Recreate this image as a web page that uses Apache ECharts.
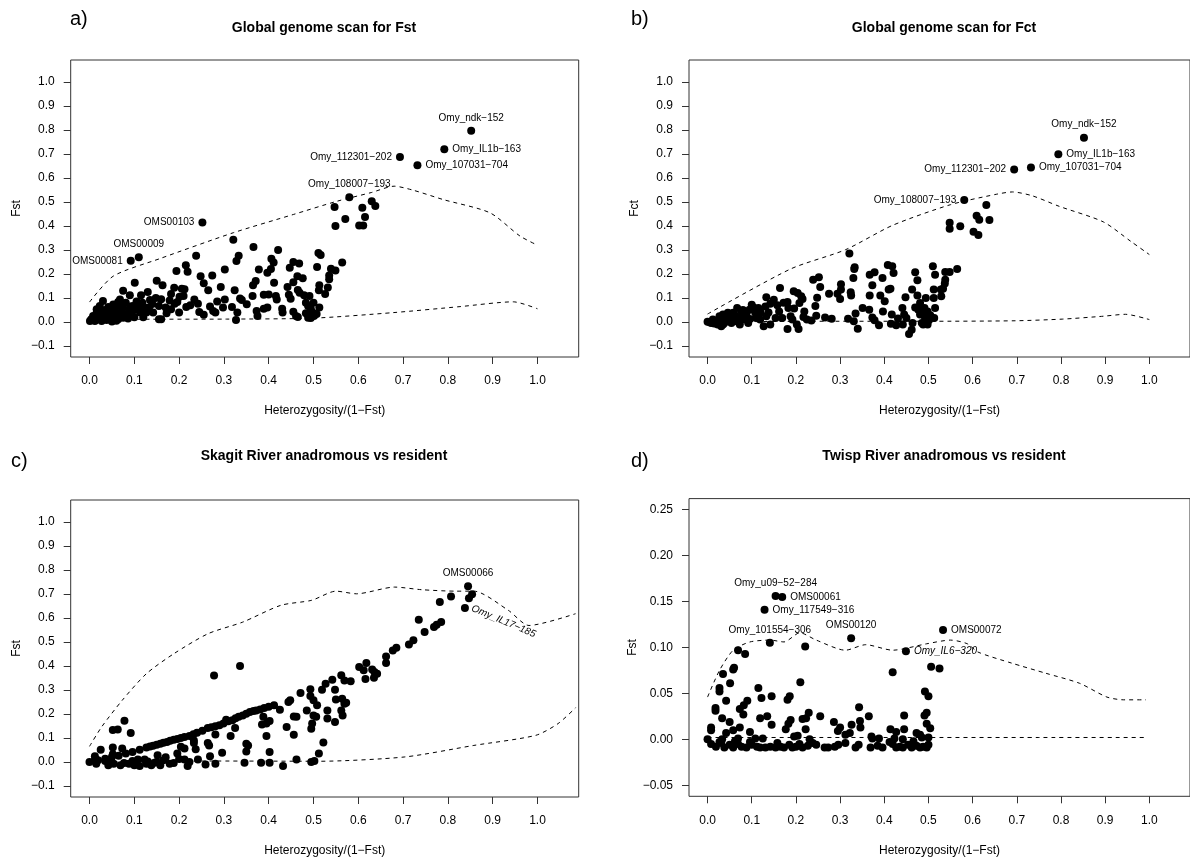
<!DOCTYPE html>
<html><head><meta charset="utf-8">
<script src="https://cdn.jsdelivr.net/npm/echarts@6/dist/echarts.min.js"></script>
<style>html,body{margin:0;padding:0;background:#fff}#c{width:1190px;height:862px}</style>
</head><body><div id="c"></div>
<script>
// ---------- tick labels ----------
const xTicks = [0, 0.1, 0.2, 0.3, 0.4, 0.5, 0.6, 0.7, 0.8, 0.9, 1.0];
const yTicksF = [-0.1, 0, 0.1, 0.2, 0.3, 0.4, 0.5, 0.6, 0.7, 0.8, 0.9, 1.0];
const yTicksD = [-0.05, 0, 0.05, 0.10, 0.15, 0.20, 0.25];

// ---------- panel a: Global genome scan for Fst ----------
const aPoints = [[0.547,0.479],[0.549,0.400],[0.571,0.429],[0.609,0.476],[0.630,0.503],[0.638,0.483],[0.615,0.438],[0.602,0.402],[0.611,0.402],
[0.321,0.343],[0.366,0.312],[0.421,0.300],[0.238,0.276],[0.333,0.276],[0.328,0.254],[0.406,0.264],[0.411,0.248],[0.511,0.288],[0.516,0.279],[0.564,0.248],[0.215,0.236],[0.194,0.212],[0.219,0.209],[0.248,0.191],[0.274,0.194],[0.302,0.219],[0.378,0.219],[0.405,0.221],[0.397,0.205],[0.455,0.250],[0.468,0.244],[0.447,0.226],[0.508,0.229],[0.539,0.222],[0.549,0.215],[0.535,0.194],[0.535,0.178],[0.532,0.144],[0.513,0.153],[0.512,0.132],[0.526,0.117],[0.464,0.191],[0.476,0.182],[0.455,0.166],[0.412,0.164],[0.371,0.171],[0.365,0.153],[0.293,0.146],[0.324,0.132],[0.255,0.161],[0.265,0.132],[0.150,0.172],[0.163,0.153],[0.101,0.164],[0.075,0.130],[0.090,0.111],[0.115,0.111],[0.130,0.125],[0.182,0.117],[0.189,0.143],[0.206,0.139],[0.212,0.136],[0.210,0.108],[0.201,0.105],[0.179,0.090],[0.190,0.076],[0.216,0.062],[0.234,0.094],[0.242,0.076],[0.245,0.042],[0.269,0.064],[0.276,0.046],[0.281,0.039],[0.298,0.060],[0.302,0.094],[0.318,0.062],[0.336,0.098],[0.340,0.092],[0.351,0.074],[0.330,0.039],[0.327,0.008],[0.364,0.108],[0.373,0.046],[0.375,0.025],[0.389,0.055],[0.397,0.060],[0.389,0.114],[0.400,0.115],[0.416,0.108],[0.418,0.094],[0.430,0.055],[0.431,0.039],[0.442,0.146],[0.445,0.114],[0.449,0.097],[0.455,0.043],[0.461,0.025],[0.465,0.021],[0.465,0.133],[0.469,0.122],[0.479,0.111],[0.491,0.108],[0.483,0.080],[0.488,0.067],[0.494,0.055],[0.500,0.080],[0.498,0.039],[0.501,0.025],[0.494,0.017],[0.507,0.033],[0.513,0.060],[0.483,0.036],[0.488,0.018],[0.160,0.011],[0.155,0.011],[0.172,0.036],[0.182,0.053],[0.196,0.083],[0.133,0.060],[0.135,0.092],[0.148,0.100],[0.155,0.067],[0.113,0.039],[0.101,0.050],[0.092,0.064],[0.081,0.080],[0.068,0.094],[0.061,0.067],[0.053,0.053],[0.042,0.062],[0.030,0.087],[0.023,0.067],[0.016,0.053],[0.008,0.025],[0.001,0.004],[0.004,0.011],[0.012,0.004],[0.019,0.014],[0.027,0.004],[0.034,0.025],[0.038,0.008],[0.045,0.032],[0.049,0.014],[0.057,0.025],[0.064,0.011],[0.071,0.039],[0.075,0.018],[0.083,0.032],[0.086,0.014],[0.094,0.025],[0.016,0.039],[0.023,0.046],[0.030,0.039],[0.042,0.039],[0.053,0.073],[0.064,0.083],[0.075,0.060],[0.097,0.067],[0.108,0.060],[0.123,0.060],[0.127,0.039],[0.142,0.039],[0.008,0.015],[0.014,0.025],
[0.020,0.030],[0.035,0.050],[0.047,0.045],[0.060,0.040],[0.070,0.070],[0.088,0.045],[0.105,0.085],[0.118,0.080],[0.140,0.075],[0.160,0.095],[0.170,0.060],[0.200,0.040],[0.225,0.070],[0.255,0.030],[0.285,0.085],[0.120,0.020],[0.100,0.020],[0.060,0.005],[0.030,0.015],[0.050,0.002]];
const aLabelNames = ['Omy_ndk\u2212152','Omy_IL1b\u2212163','Omy_112301\u2212202','Omy_107031\u2212704','Omy_108007\u2212193','OMS00103','OMS00009','OMS00081'];
const aLabelX = [0.852, 0.792, 0.693, 0.732, 0.580, 0.252, 0.110, 0.092];
const aLabelY = [0.797, 0.720, 0.688, 0.653, 0.520, 0.415, 0.270, 0.255];
const aUpper = [[0.0,0.083],[0.053,0.191],[0.157,0.264],[0.321,0.372],[0.455,0.448],[0.552,0.503],[0.630,0.540],[0.680,0.566],[0.723,0.549],[0.790,0.510],[0.894,0.455],[0.961,0.358],[1.0,0.320]];
const aLower = [[0.0,0.004],[0.083,0.011],[0.306,0.012],[0.500,0.016],[0.678,0.039],[0.827,0.064],[0.946,0.084],[1.0,0.055]];

// ---------- panel b: Global genome scan for Fct ----------
const bPoints = [[0.631,0.488],[0.609,0.443],[0.615,0.426],[0.638,0.425],[0.548,0.414],[0.548,0.389],[0.572,0.399],[0.602,0.376],[0.613,0.363],
[0.321,0.285],[0.333,0.228],[0.332,0.221],[0.330,0.183],[0.239,0.176],[0.252,0.186],[0.255,0.146],[0.248,0.101],[0.244,0.067],[0.246,0.026],[0.235,0.006],[0.275,0.118],[0.266,0.019],[0.281,0.013],[0.294,0.118],[0.300,0.096],[0.302,0.135],[0.302,0.157],[0.324,0.124],[0.325,0.110],[0.318,0.013],[0.331,0.003],[0.340,-0.028],[0.335,0.035],[0.351,0.058],[0.366,0.051],[0.367,0.110],[0.373,0.153],[0.367,0.197],[0.378,0.207],[0.373,0.019],[0.378,0.007],[0.388,-0.014],[0.391,0.110],[0.396,0.183],[0.401,0.086],[0.397,0.044],[0.408,0.237],[0.418,0.232],[0.421,0.204],[0.410,0.135],[0.414,0.138],[0.417,0.031],[0.415,-0.007],[0.427,-0.014],[0.431,0.014],[0.442,-0.011],[0.448,0.103],[0.441,0.058],[0.445,0.031],[0.450,0.017],[0.456,-0.050],[0.462,-0.032],[0.464,-0.004],[0.463,0.135],[0.470,0.207],[0.475,0.174],[0.475,0.110],[0.481,0.079],[0.477,0.051],[0.481,0.031],[0.485,-0.004],[0.488,-0.011],[0.491,0.058],[0.494,0.100],[0.498,0.044],[0.501,0.007],[0.504,0.028],[0.498,-0.011],[0.510,0.232],[0.515,0.197],[0.512,0.135],[0.512,0.100],[0.515,0.058],[0.513,0.017],[0.528,0.135],[0.529,0.107],[0.533,0.138],[0.537,0.160],[0.538,0.176],[0.538,0.208],[0.548,0.208],[0.565,0.221],[0.133,0.103],[0.142,0.076],[0.150,0.093],[0.164,0.142],[0.162,0.044],[0.169,0.017],[0.181,0.083],[0.181,-0.029],[0.183,0.058],[0.188,0.024],[0.195,0.128],[0.204,0.121],[0.208,0.079],[0.212,0.107],[0.215,0.096],[0.219,0.044],[0.217,0.021],[0.206,-0.029],[0.202,-0.011],[0.192,0.010],[0.131,0.065],[0.133,0.024],[0.127,-0.018],[0.119,0.010],[0.142,-0.011],[0.154,0.017],[0.115,0.058],[0.100,0.072],[0.095,0.051],[0.088,0.033],[0.081,0.010],[0.073,-0.011],[0.067,0.058],[0.058,0.038],[0.050,0.017],[0.042,0.003],[0.035,-0.011],[0.027,0.024],[0.019,0.003],[0.012,0.010],[0.004,0.000],[0.008,-0.004],[0.000,0.001],[0.035,0.031],[0.042,0.024],[0.077,0.044],[0.085,0.024],[0.092,-0.004],[0.108,0.038],[0.110,0.017],[0.023,-0.011],[0.031,-0.018],[0.054,-0.004],[0.065,0.003],[0.046,0.038],
[0.015,-0.006],[0.028,0.008],[0.038,-0.004],[0.052,0.010],[0.062,0.028],[0.071,0.020],[0.080,0.050],[0.096,0.012],[0.104,0.060],[0.120,0.040],[0.138,0.040],[0.158,0.070],[0.172,0.080],[0.196,0.056],[0.225,0.010],[0.485,0.040],[0.492,0.020],[0.470,0.060]];
const bLabelNames = ['Omy_ndk\u2212152','Omy_IL1b\u2212163','Omy_112301\u2212202','Omy_107031\u2212704','Omy_108007\u2212193'];
const bLabelX = [0.852, 0.794, 0.694, 0.732, 0.581];
const bLabelY = [0.768, 0.699, 0.636, 0.644, 0.508];
const bUpper = [[0.0,0.033],[0.188,0.221],[0.312,0.301],[0.419,0.403],[0.550,0.489],[0.650,0.531],[0.690,0.542],[0.735,0.526],[0.796,0.482],[0.896,0.417],[0.958,0.336],[1.0,0.281]];
const bLower = [[0.0,0.0],[0.265,0.003],[0.496,0.003],[0.696,0.005],[0.804,0.012],[0.896,0.024],[0.946,0.032],[1.0,0.010]];

// ---------- panel c: Skagit River anadromous vs resident ----------
const cPoints = [[0.854,0.699],[0.847,0.682],[0.807,0.690],[0.782,0.667],[0.735,0.593],[0.785,0.583],[0.775,0.572],[0.769,0.563],[0.748,0.542],[0.723,0.507],[0.713,0.490],[0.685,0.476],[0.677,0.465],[0.662,0.440],[0.662,0.413],[0.618,0.413],[0.602,0.396],[0.612,0.382],[0.616,0.346],[0.631,0.385],[0.636,0.375],[0.642,0.368],[0.635,0.351],[0.562,0.361],[0.569,0.340],[0.583,0.336],[0.542,0.343],[0.527,0.326],[0.519,0.301],[0.548,0.301],[0.493,0.303],[0.471,0.288],[0.448,0.257],[0.444,0.250],[0.412,0.236],[0.425,0.218],[0.390,0.225],[0.381,0.219],[0.372,0.215],[0.358,0.208],[0.350,0.201],[0.342,0.194],[0.333,0.188],[0.319,0.174],[0.305,0.176],[0.299,0.160],[0.290,0.153],[0.281,0.149],[0.264,0.142],[0.240,0.122],[0.223,0.108],[0.204,0.100],[0.188,0.093],[0.173,0.083],[0.158,0.076],[0.142,0.068],[0.127,0.060],[0.112,0.051],[0.096,0.042],[0.081,0.035],[0.065,0.026],[0.050,0.021],[0.035,0.013],[0.019,0.007],[0.0,0.0],
[0.278,0.360],[0.336,0.400],[0.078,0.172],[0.063,0.135],[0.052,0.133],[0.092,0.121],[0.025,0.051],[0.052,0.060],[0.073,0.056],
[0.493,0.275],[0.500,0.257],[0.508,0.236],[0.485,0.215],[0.500,0.194],[0.506,0.188],[0.497,0.160],[0.495,0.139],[0.456,0.190],[0.462,0.188],[0.440,0.146],[0.456,0.114],[0.531,0.215],[0.531,0.181],[0.548,0.167],[0.550,0.260],[0.564,0.264],[0.569,0.243],[0.573,0.247],[0.562,0.215],[0.565,0.194],[0.388,0.188],[0.385,0.156],[0.395,0.160],[0.402,0.171],[0.395,0.108],[0.402,0.042],[0.350,0.076],[0.354,0.069],[0.350,0.044],[0.346,-0.003],[0.383,-0.003],[0.402,-0.003],[0.432,-0.017],[0.462,0.010],[0.495,0.0],[0.502,0.004],[0.512,0.035],[0.522,0.081],[0.325,0.142],[0.315,0.108],[0.296,0.038],[0.281,-0.007],[0.269,0.024],[0.259,-0.011],[0.264,0.079],[0.267,0.069],[0.281,0.115],[0.242,0.010],[0.237,0.053],[0.233,0.079],[0.233,0.090],[0.223,0.0],[0.219,-0.017],[0.212,0.010],[0.212,0.056],[0.204,0.063],[0.196,0.035],[0.188,-0.004],[0.179,-0.007],[0.165,0.007],[0.158,-0.014],[0.152,0.028],[0.150,0.0],[0.138,-0.014],[0.127,-0.007],[0.123,0.010],[0.112,-0.017],[0.100,-0.014],[0.096,0.004],[0.088,-0.007],[0.077,-0.004],[0.069,-0.014],[0.054,-0.007],[0.042,-0.014],[0.046,0.007],[0.035,0.004],[0.012,0.007],[0.012,0.024],[0.015,-0.007],[0.052,0.032],
[0.135,0.064],[0.150,0.072],[0.165,0.080],[0.180,0.088],[0.196,0.096],[0.212,0.104],[0.232,0.116],[0.252,0.130],[0.272,0.145],[0.310,0.170],[0.326,0.182],[0.366,0.212],[0.400,0.230],[0.108,0.010],[0.130,0.002],[0.145,-0.003],[0.170,0.020],[0.200,0.012]];
const cLabelNames = ['OMS00066','Omy_IL17\u2212185'];
const cLabelX = [0.845, 0.838];
const cLabelY = [0.732, 0.642];
const cUpper = [[0.0,0.065],[0.027,0.146],[0.073,0.257],[0.127,0.368],[0.188,0.451],[0.265,0.535],[0.342,0.583],[0.427,0.653],[0.496,0.674],[0.550,0.712],[0.596,0.701],[0.681,0.729],[0.742,0.718],[0.819,0.712],[0.858,0.712],[0.935,0.632],[0.981,0.569],[1.085,0.618]];
const cLower = [[0.0,0.0],[0.281,0.004],[0.512,0.003],[0.704,0.021],[0.858,0.069],[0.996,0.111],[1.046,0.160],[1.085,0.226]];

// ---------- panel d: Twisp River anadromous vs resident ----------
const dPoints = [[0.069,0.097],[0.085,0.093],[0.035,0.071],[0.058,0.076],[0.060,0.078],[0.027,0.056],[0.027,0.052],[0.051,0.061],[0.042,0.042],[0.018,0.034],[0.018,0.031],[0.033,0.023],[0.008,0.013],[0.008,0.010],[0.050,0.019],[0.073,0.033],[0.082,0.037],[0.090,0.042],[0.081,0.027],[0.073,0.013],[0.058,0.010],[0.042,0.007],[0.096,0.008],[0.115,0.056],[0.122,0.045],[0.145,0.047],[0.119,0.023],[0.135,0.025],[0.145,0.016],[0.181,0.043],[0.186,0.047],[0.188,0.021],[0.183,0.017],[0.177,0.011],[0.210,0.062],[0.215,0.022],[0.223,0.023],[0.229,0.029],[0.222,0.011],[0.221,0.101],[0.255,0.025],[0.286,0.019],[0.295,0.009],[0.300,0.013],[0.312,0.005],[0.322,0.007],[0.326,0.016],[0.343,0.035],[0.345,0.020],[0.346,0.013],[0.365,0.025],[0.371,0.003],[0.419,0.073],[0.414,0.011],[0.427,0.008],[0.445,0.026],[0.445,0.011],[0.473,0.007],[0.481,0.005],[0.492,0.052],[0.500,0.047],[0.491,0.026],[0.496,0.029],[0.496,0.017],[0.504,0.012],[0.500,0.002],[0.506,0.079],[0.525,0.077],
[0.0,0.0],[0.008,-0.005],[0.019,-0.008],[0.031,-0.004],[0.038,-0.009],[0.050,-0.006],[0.058,-0.009],[0.069,-0.005],[0.077,-0.008],[0.088,-0.009],[0.100,-0.006],[0.112,-0.008],[0.119,-0.009],[0.131,-0.009],[0.142,-0.008],[0.154,-0.009],[0.165,-0.008],[0.173,-0.009],[0.185,-0.006],[0.192,-0.009],[0.200,-0.008],[0.208,-0.005],[0.215,-0.009],[0.227,-0.007],[0.238,-0.004],[0.265,-0.009],[0.273,-0.009],[0.288,-0.008],[0.296,-0.006],[0.335,-0.009],[0.342,-0.006],[0.369,-0.009],[0.385,-0.007],[0.396,-0.009],[0.419,-0.005],[0.427,-0.009],[0.435,-0.008],[0.442,-0.009],[0.454,-0.006],[0.462,-0.009],[0.473,-0.007],[0.481,-0.009],[0.488,-0.008],[0.496,-0.009],[0.500,-0.006],
[0.033,0.0],[0.069,0.001],[0.108,0.001],[0.125,0.001],[0.196,0.003],[0.204,0.004],[0.231,0.0],[0.373,0.001],[0.388,0.001],[0.423,0.001],[0.442,0.0],[0.485,0.002],[0.027,-0.003],[0.062,-0.002],[0.096,-0.003],[0.158,-0.004],[0.246,-0.006],[0.312,-0.004],[0.412,-0.003],[0.466,-0.002]];
const dLabelNames = ['Omy_u09\u221252\u2212284','OMS00061','Omy_117549\u2212316','Omy_101554\u2212306','OMS00120','OMS00072','Omy_IL6\u2212320'];
const dLabelX = [0.154, 0.169, 0.129, 0.141, 0.325, 0.533, 0.449];
const dLabelY = [0.156, 0.155, 0.141, 0.105, 0.110, 0.119, 0.096];
const dUpper = [[0.0,0.046],[0.027,0.075],[0.058,0.097],[0.096,0.106],[0.142,0.108],[0.173,0.106],[0.209,0.116],[0.246,0.108],[0.312,0.097],[0.358,0.103],[0.419,0.097],[0.496,0.104],[0.550,0.108],[0.588,0.104],[0.612,0.095],[0.688,0.083],[0.765,0.072],[0.842,0.061],[0.904,0.046],[0.942,0.043],[0.992,0.043]];
const dLower = [[0.0,0.002],[0.25,0.002],[0.5,0.002],[0.75,0.002],[0.992,0.002]];

// ---------- styling / layout ----------
const FONT = '"Liberation Sans", Arial, Helvetica, sans-serif';
const INK = '#000';
const FRAME = '#333';

const labelPos = {
  a: ['top','right','left','right','top','left','top','left'],
  b: ['top','right','left','right','left'],
  c: ['top','right'],
  d: ['top','right','right','top','top','right','right']
};
const labelExtra = {
  'c1': {rotate: -23, fontStyle: 'italic', distance: 3},
  'd3': {offset: [-22, 2]},
  'd6': {fontStyle: 'italic'}
};

const grids = [
  {left: 70.7, top: 60, width: 508, height: 297},
  {left: 689, top: 60, width: 509, height: 297},
  {left: 70.7, top: 500, width: 508, height: 297},
  {left: 689, top: 498.6, width: 509, height: 297.7}
].map(g => Object.assign(g, {show: true, borderColor: FRAME, borderWidth: 1, backgroundColor: 'transparent', containLabel: false}));

const fmt = d => v => v.toFixed(d).replace('-', '\u2212');

function xAx(i) {
  return {
    type: 'value', gridIndex: i, min: -0.042, max: 1.092, position: 'bottom',
    name: 'Heterozygosity/(1\u2212Fst)', nameLocation: 'middle', nameGap: 48,
    nameTextStyle: {fontFamily: FONT, fontSize: 12, color: INK},
    axisLine: {show: false, onZero: false},
    axisTick: {show: true, inside: false, length: 7, customValues: xTicks, lineStyle: {color: FRAME, width: 1}},
    axisLabel: {show: true, customValues: xTicks, formatter: fmt(1), margin: 18, fontFamily: FONT, fontSize: 12, color: INK},
    splitLine: {show: false}
  };
}
function yAx(i, name, ticks, mn, mx, dec, gap) {
  return {
    type: 'value', gridIndex: i, min: mn, max: mx, position: 'left',
    name: name, nameLocation: 'middle', nameGap: gap,
    nameTextStyle: {fontFamily: FONT, fontSize: 12, color: INK},
    axisLine: {show: false, onZero: false},
    axisTick: {show: true, inside: false, length: 7, customValues: ticks, lineStyle: {color: FRAME, width: 1}},
    axisLabel: {show: true, customValues: ticks, formatter: fmt(dec), margin: 16, fontFamily: FONT, fontSize: 12, color: INK},
    splitLine: {show: false}
  };
}

function panelSeries(i, key, pts, names, lx, ly, upper, lower) {
  const dash = {color: INK, width: 1, type: [4, 4], opacity: 1};
  const labeled = names.map((n, k) => {
    const extra = labelExtra[key + k] || {};
    return {
      value: [lx[k], ly[k]], name: n,
      label: Object.assign({show: true, position: labelPos[key][k], formatter: n,
        fontFamily: FONT, fontSize: 10, color: INK, distance: 4}, extra)
    };
  });
  return [
    {type: 'line', xAxisIndex: i, yAxisIndex: i, data: upper, symbol: 'none', smooth: 0.25, lineStyle: dash, silent: true, z: 1},
    {type: 'line', xAxisIndex: i, yAxisIndex: i, data: lower, symbol: 'none', smooth: 0.25, lineStyle: dash, silent: true, z: 1},
    {type: 'scatter', xAxisIndex: i, yAxisIndex: i, data: pts, symbolSize: 8, itemStyle: {color: INK, opacity: 1}, z: 2},
    {type: 'scatter', xAxisIndex: i, yAxisIndex: i, data: labeled, symbolSize: 8, itemStyle: {color: INK, opacity: 1}, z: 3, labelLayout: {hideOverlap: false}}
  ];
}

function txt(x, y, s, size, weight, align) {
  return {type: 'text', x: x, y: y, silent: true,
    style: {text: s, fill: INK, font: (weight || 'normal') + ' ' + size + 'px ' + FONT,
      textAlign: align || 'left', align: align || 'left', textVerticalAlign: 'middle', verticalAlign: 'middle'}};
}

const chart = echarts.init(document.getElementById('c'), null, {renderer: 'canvas'});
chart.setOption({
  animation: false,
  backgroundColor: '#fff',
  grid: grids,
  xAxis: [xAx(0), xAx(1), xAx(2), xAx(3)],
  yAxis: [
    yAx(0, 'Fst', yTicksF, -0.146, 1.092, 1, 48),
    yAx(1, 'Fct', yTicksF, -0.146, 1.092, 1, 48),
    yAx(2, 'Fst', yTicksF, -0.146, 1.092, 1, 48),
    yAx(3, 'Fst', yTicksD, -0.062, 0.262, 2, 48)
  ],
  series: [].concat(
    panelSeries(0, 'a', aPoints, aLabelNames, aLabelX, aLabelY, aUpper, aLower),
    panelSeries(1, 'b', bPoints, bLabelNames, bLabelX, bLabelY, bUpper, bLower),
    panelSeries(2, 'c', cPoints, cLabelNames, cLabelX, cLabelY, cUpper, cLower),
    panelSeries(3, 'd', dPoints, dLabelNames, dLabelX, dLabelY, dUpper, dLower)
  ),
  graphic: [
    txt(70, 19, 'a)', 20),
    txt(324, 28, 'Global genome scan for Fst', 14, 'bold', 'center'),
    txt(631, 19, 'b)', 20),
    txt(944, 28, 'Global genome scan for Fct', 14, 'bold', 'center'),
    txt(11, 461, 'c)', 20),
    txt(324, 456, 'Skagit River anadromous vs resident', 14, 'bold', 'center'),
    txt(631, 461, 'd)', 20),
    txt(944, 456, 'Twisp River anadromous vs resident', 14, 'bold', 'center')
  ]
});
</script></body></html>
